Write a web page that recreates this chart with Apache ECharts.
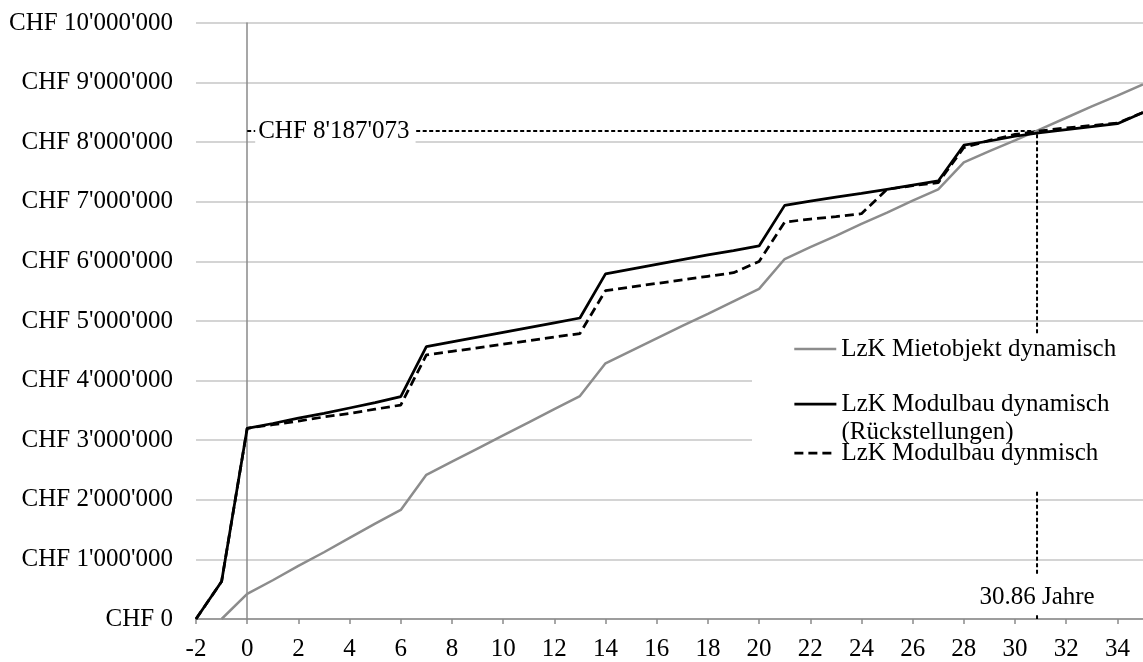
<!DOCTYPE html>
<html><head><meta charset="utf-8">
<script src="https://cdn.jsdelivr.net/npm/echarts@6/dist/echarts.min.js"></script>
<style>html,body{margin:0;padding:0;background:#fff}#c{width:1143px;height:662px}</style>
</head><body><div id="c"></div>
<script>
// ---- data ----
const years = [-2,-1,0,1,2,3,4,5,6,7,8,9,10,11,12,13,14,15,16,17,18,19,20,21,22,23,24,25,26,27,28,29,30,31,32,33,34,35];
const mietobjekt = [null,0,420000,650000,890000,1120000,1360000,1600000,1830000,2420000,2640000,2860000,3080000,3300000,3520000,3740000,4290000,4500000,4710000,4920000,5120000,5330000,5540000,6040000,6240000,6430000,6630000,6820000,7020000,7210000,7660000,7850000,8030000,8220000,8410000,8600000,8780000,8970000];
const modulbauRueck = [0,630000,3200000,3280000,3370000,3450000,3540000,3630000,3730000,4570000,4650000,4730000,4810000,4890000,4970000,5050000,5790000,5870000,5950000,6030000,6110000,6180000,6260000,6940000,7010000,7080000,7140000,7210000,7280000,7350000,7950000,8020000,8100000,8160000,8210000,8260000,8310000,8500000];
const modulbau = [0,630000,3200000,3260000,3320000,3390000,3450000,3520000,3590000,4430000,4490000,4550000,4610000,4670000,4730000,4790000,5510000,5570000,5630000,5690000,5750000,5810000,6000000,6660000,6710000,6750000,6800000,7210000,7270000,7320000,7910000,8030000,8130000,8190000,8240000,8280000,8320000,8500000];
const seriesNames = ['LzK Mietobjekt dynamisch','LzK Modulbau dynamisch (Rückstellungen)','LzK Modulbau dynmisch'];
const xTicks = [-2,0,2,4,6,8,10,12,14,16,18,20,22,24,26,28,30,32,34];
const yTicks = [0,1000000,2000000,3000000,4000000,5000000,6000000,7000000,8000000,9000000,10000000];
const breakEvenYear = 30.86;
const breakEvenValue = 8187073;
const breakEvenValueLabel = "CHF 8'187'073";
const breakEvenYearLabel = "30.86 Jahre";

// ---- helpers ----
function chf(v){ return 'CHF ' + String(Math.round(v)).replace(/\B(?=(\d{3})+(?!\d))/g, "'"); }
const pairs = arr => years.map((y,i)=>[y, arr[i]]);
const FONT = "'Liberation Serif', 'Times New Roman', serif";
const FS = 25;
const AXIS_GRAY = '#8a8a8a';

const chart = echarts.init(document.getElementById('c'), null, {renderer:'canvas'});
const legendText = {fontFamily: FONT, fontSize: FS, color:'#000', lineHeight: 28};
const legendCommon = {orient: 'vertical', left: 752, backgroundColor: '#fff', itemWidth: 42, itemHeight: 14,
  selectedMode: false, textStyle: legendText, itemStyle: {color: 'rgba(0,0,0,0)', borderWidth: 0},
  lineStyle: {width: 'inherit'}};
chart.setOption({
  animation: false,
  backgroundColor: '#fff',
  grid: {left: 196, right: 0, top: 23, bottom: 41, containLabel: false},
  xAxis: {
    type: 'value', min: xTicks[0], max: 35, interval: 2,
    axisLine: {show: true, lineStyle: {color: AXIS_GRAY, width: 1.5}},
    axisTick: {show: true, length: 5, inside: false, customValues: xTicks, lineStyle: {color: AXIS_GRAY, width: 1.5}},
    axisLabel: {customValues: xTicks, margin: 18, color: '#000', fontFamily: FONT, fontSize: FS},
    splitLine: {show: false}
  },
  yAxis: [{
    type: 'value', min: yTicks[0], max: yTicks[yTicks.length-1], interval: 1000000,
    axisLine: {show: false, onZero: false},
    axisTick: {show: false},
    axisLabel: {margin: 23, color: '#000', fontFamily: FONT, fontSize: FS, formatter: v => chf(v)},
    splitLine: {show: true, lineStyle: {color: '#c6c6c6', width: 1.5}}
  },{
    type: 'value', min: yTicks[0], max: yTicks[yTicks.length-1], interval: 1000000, position: 'left',
    axisLine: {show: true, onZero: true, lineStyle: {color: AXIS_GRAY, width: 1.5}},
    axisTick: {show: false}, axisLabel: {show: false}, splitLine: {show: false}
  }],
  legend: [
    Object.assign({}, legendCommon, {data: [seriesNames[0]], top: 334, padding: [1, 300, 13, 41]}),
    Object.assign({}, legendCommon, {data: [seriesNames[1]], top: 362, padding: [0, 300, 2, 41],
      formatter: n => '\n' + n.replace(' (', '\n(')}),
    Object.assign({}, legendCommon, {data: [seriesNames[2]], top: 435, padding: [4, 300, 24, 41]})
  ],
  series: [
    {name: seriesNames[0], type: 'line', yAxisIndex: 0, data: pairs(mietobjekt), symbol: 'none',
     lineStyle: {color: '#8c8c8c', width: 2.5}, itemStyle: {color: '#8c8c8c'}, z: 3},
    {name: seriesNames[2], type: 'line', yAxisIndex: 0, data: pairs(modulbau), symbol: 'none',
     lineStyle: {color: '#000', width: 2.75, type: [9, 5]}, itemStyle: {color: '#000'}, z: 3},
    {name: seriesNames[1], type: 'line', yAxisIndex: 0, data: pairs(modulbauRueck), symbol: 'none',
     lineStyle: {color: '#000', width: 2.75}, itemStyle: {color: '#000'}, z: 3},
    {name: 'annotation', type: 'line', yAxisIndex: 0, symbol: 'none', silent: true,
     data: [[0, breakEvenValue], [breakEvenYear, breakEvenValue], [breakEvenYear, 0]],
     lineStyle: {color: '#000', width: 2, type: [4, 2.5]}, z: 2,
     markPoint: {
       symbol: 'circle', symbolSize: 0, silent: true, z: 6,
       label: {show: true, formatter: '{b}', color: '#000', fontFamily: FONT, fontSize: FS, lineHeight: 28, backgroundColor: '#fff'},
       data: [
         {name: breakEvenValueLabel, coord: [0, breakEvenValue], label: {position: 'right', distance: 8, padding: [3, 6, 3, 3]}},
         {name: breakEvenYearLabel, coord: [breakEvenYear, 0], label: {position: 'top', distance: 6, padding: [8, 3, 2, 3]}}
       ]
     }}
  ]
});
</script>
</body></html>
